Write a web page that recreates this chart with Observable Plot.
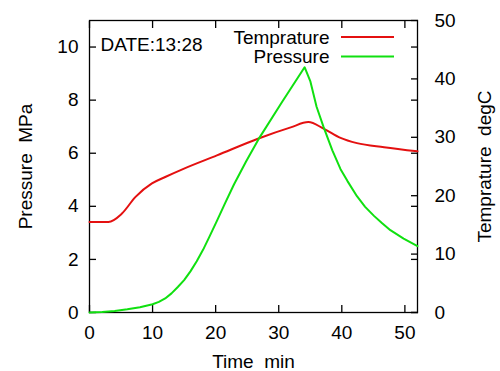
<!DOCTYPE html>
<html><head><meta charset="utf-8">
<script src="https://cdn.jsdelivr.net/npm/d3@7"></script>
<script src="https://cdn.jsdelivr.net/npm/@observablehq/plot@0.6"></script>
<style>body{margin:0;background:#fff}</style>
</head><body><div id="chart"></div>
<script>
// Data
const timeP = [0, 2, 4, 6, 8, 10, 11, 12, 13, 14, 15, 16, 17, 18, 19, 20.2, 21.5, 22.9, 24.8, 26.8, 30.5, 34.1, 35.0, 36.0, 37.1, 38.5, 39.8, 40.9, 42.4, 43.7, 45.1, 46.4, 47.7, 49.8, 52];
const pressure = [0, 0.02, 0.06, 0.12, 0.2, 0.31, 0.4, 0.53, 0.72, 0.96, 1.22, 1.55, 1.93, 2.36, 2.85, 3.45, 4.12, 4.82, 5.68, 6.53, 7.92, 9.24, 8.72, 7.75, 6.99, 6.11, 5.40, 4.95, 4.38, 3.98, 3.64, 3.36, 3.10, 2.78, 2.50];
const timeT = [0, 3, 5.1, 7.3, 9.9, 12, 14.9, 20.2, 26.8, 31.9, 34.7, 37.1, 39.8, 42.4, 46.7, 52];
const temperature = [15.5, 15.5, 16.9, 19.8, 22.1, 23.2, 24.6, 26.9, 29.8, 31.7, 32.6, 31.5, 29.9, 29.0, 28.3, 27.6];
const pressureTicks = [0, 2, 4, 6, 8, 10];
const tempTicks = [0, 10, 20, 30, 40, 50];
const timeTicks = [0, 10, 20, 30, 40, 50];
const seriesNames = ["Temprature", "Pressure"];
const seriesColors = ["#e41010", "#10e010"];
const dateLabel = "DATE:13:28";
const pressureDomain = [0, 11];
const tempDomain = [0, 50];
const timeDomain = [0, 52];

const k = pressureDomain[1] / tempDomain[1];
const P = timeP.map((t, i) => ({time: t, value: pressure[i]}));
const T = timeT.map((t, i) => ({time: t, value: temperature[i] * k}));
const font = "'Liberation Sans', Arial, Helvetica, sans-serif";
const legendRowY = [17, 36.5];

const plot = Plot.plot({
  width: 500, height: 371,
  marginLeft: 89, marginRight: 83, marginTop: 20, marginBottom: 59,
  style: {fontSize: "19px", fontFamily: font, background: "white", color: "black"},
  x: {domain: timeDomain},
  y: {domain: pressureDomain},
  marks: [
    Plot.axisX(timeTicks, {anchor: "bottom", tickSize: -7, strokeWidth: 1.3, text: null, label: null}),
    Plot.axisX(timeTicks, {anchor: "top", tickSize: -7, strokeWidth: 1.3, text: null, label: null}),
    Plot.axisX(timeTicks, {anchor: "bottom", tickSize: 0, tickPadding: 13, label: "Time\u00a0 min", labelAnchor: "center", labelArrow: "none", labelOffset: 55}),
    Plot.axisY(pressureTicks, {anchor: "left", tickSize: -7, strokeWidth: 1.3, text: null, label: null}),
    Plot.axisY(pressureTicks, {anchor: "right", tickSize: -7, strokeWidth: 1.3, text: null, label: null}),
    Plot.axisY(pressureTicks, {anchor: "left", tickSize: 0, tickPadding: 11, label: "Pressure\u00a0 MPa", labelAnchor: "center", labelArrow: "none", labelOffset: 71}),
    Plot.axisY(tempTicks.map(t => t * k), {anchor: "right", tickSize: -7, strokeWidth: 1.3, text: null, label: null}),
    Plot.axisY(tempTicks.map(t => t * k), {anchor: "right", tickSize: 0, tickPadding: 17, tickFormat: d => String(Math.round(d / k)), label: "Temprature\u00a0 degC", labelAnchor: "center", labelArrow: "none", labelOffset: 73}),
    Plot.frame({stroke: "black", strokeWidth: 1.3}),
    Plot.line(T, {x: "time", y: "value", stroke: seriesColors[0], strokeWidth: 2, curve: "monotone-x"}),
    Plot.line(P, {x: "time", y: "value", stroke: seriesColors[1], strokeWidth: 2, curve: "linear", strokeLinejoin: "round"}),
    Plot.text([dateLabel], {text: d => d, frameAnchor: "top-left", dx: 11, dy: 24, textAnchor: "start", lineAnchor: "middle"}),
    ...seriesNames.map((name, i) =>
      Plot.text([name], {text: d => d, frameAnchor: "top-right", dx: -88, dy: legendRowY[i], textAnchor: "end", lineAnchor: "middle"}))
  ]
});
document.getElementById("chart").append(plot);

// legend swatches, placed relative to the plot frame
const svg = d3.select(plot);
const xr = plot.scale("x").range, yr = plot.scale("y").range;
const frameRight = xr[1], frameTop = yr[1];
seriesNames.forEach((name, i) => {
  svg.append("line")
    .attr("x1", frameRight - 76).attr("x2", frameRight - 23)
    .attr("y1", frameTop + legendRowY[i]).attr("y2", frameTop + legendRowY[i])
    .attr("stroke", seriesColors[i]).attr("stroke-width", 2);
});
</script>
</body></html>
